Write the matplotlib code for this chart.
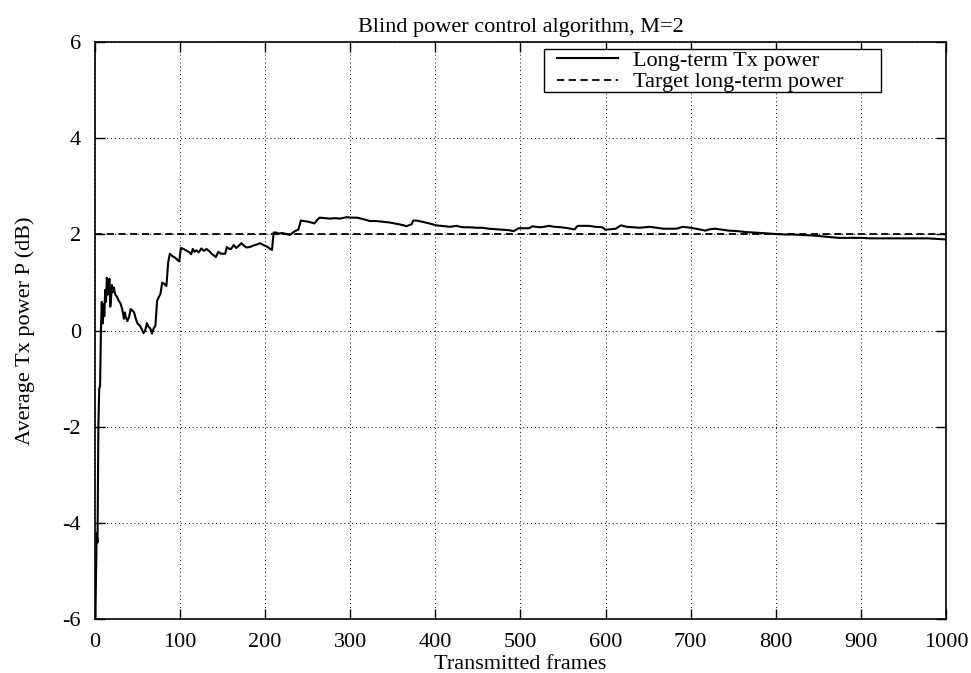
import matplotlib.pyplot as plt
from matplotlib.patches import Rectangle

# frames / long-term Tx power (dB)
frames = [0, 2, 3, 4, 5, 6, 7, 8, 9, 10,
          11, 12, 13, 14, 15, 16, 17, 18, 19, 20,
          21, 22, 24, 26, 28, 30, 32, 34, 35, 36,
          38, 40, 42, 44, 46, 48, 50, 53, 55, 57,
          59, 61, 63, 65, 67, 69, 71, 73, 75, 77,
          79, 81, 84, 86, 88, 91, 94, 97, 99, 101,
          104, 108, 111, 113, 115, 117, 119, 122, 125, 128,
          131, 134, 137, 140, 142, 145, 148, 151, 153, 155,
          158, 160, 163, 166, 168, 172, 175, 178, 182, 186,
          190, 194, 198, 202, 206, 208, 210, 213, 216, 220,
          225, 229, 232, 235, 239, 242, 249, 254, 258, 261,
          264, 270, 276, 282, 288, 296, 302, 308, 315, 323,
          330, 335, 340, 346, 352, 358, 363, 366, 370, 372,
          374, 378, 383, 388, 393, 397, 401, 407, 412, 417,
          421, 425, 429, 433, 440, 448, 455, 463, 471, 478,
          486, 492, 495, 498, 504, 510, 514, 518, 523, 528,
          533, 540, 548, 556, 562, 564, 566, 568, 574, 580,
          588, 596, 600, 606, 612, 618, 625, 632, 640, 646,
          652, 660, 668, 676, 683, 691, 700, 706, 712, 717,
          723, 729, 737, 745, 755, 765, 775, 784, 792, 800,
          810, 819, 831, 843, 855, 866, 874, 882, 892, 901,
          910, 920, 932, 944, 960, 979, 997, 1000]
power_db = [-6.6, -4.2, -4.4, -2.0, -1.2, -1.15, 0.0, 0.6, 0.15, 0.55,
            0.3, 0.85, 0.6, 1.1, 0.75, 0.95, 1.08, 0.5, 0.7, 0.95,
            0.8, 0.9, 0.75, 0.7, 0.62, 0.57, 0.45, 0.25, 0.38, 0.3,
            0.2, 0.28, 0.45, 0.42, 0.38, 0.25, 0.15, 0.1, 0.03, -0.05,
            0.0, 0.16, 0.08, 0.05, -0.06, 0.05, 0.1, 0.62, 0.7, 0.77,
            1.0, 0.98, 0.93, 1.42, 1.6, 1.55, 1.52, 1.47, 1.44, 1.72,
            1.7, 1.66, 1.63, 1.59, 1.7, 1.64, 1.67, 1.63, 1.71, 1.66,
            1.7, 1.66, 1.6, 1.56, 1.53, 1.64, 1.6, 1.6, 1.6, 1.74,
            1.7, 1.7, 1.78, 1.72, 1.75, 1.82, 1.77, 1.73, 1.74, 1.77,
            1.79, 1.82, 1.78, 1.75, 1.7, 1.68, 2.04, 2.04, 2.02, 2.03,
            2.01, 1.99, 2.03, 2.07, 2.1, 2.29, 2.27, 2.25, 2.23, 2.3,
            2.35, 2.34, 2.33, 2.34, 2.33, 2.36, 2.35, 2.35, 2.32, 2.28,
            2.28, 2.27, 2.26, 2.25, 2.23, 2.21, 2.19, 2.17, 2.2, 2.21,
            2.29, 2.29, 2.27, 2.25, 2.23, 2.21, 2.19, 2.18, 2.17, 2.16,
            2.17, 2.18, 2.16, 2.15, 2.15, 2.14, 2.14, 2.12, 2.11, 2.1,
            2.09, 2.07, 2.1, 2.13, 2.13, 2.13, 2.17, 2.16, 2.15, 2.16,
            2.18, 2.16, 2.15, 2.13, 2.11, 2.11, 2.16, 2.18, 2.18, 2.18,
            2.16, 2.15, 2.1, 2.11, 2.12, 2.19, 2.16, 2.15, 2.14, 2.15,
            2.16, 2.14, 2.12, 2.12, 2.12, 2.16, 2.14, 2.12, 2.1, 2.08,
            2.11, 2.12, 2.1, 2.08, 2.07, 2.05, 2.04, 2.03, 2.02, 2.01,
            2.0, 2.0, 1.99, 1.98, 1.96, 1.94, 1.93, 1.93, 1.93, 1.93,
            1.92, 1.92, 1.92, 1.92, 1.92, 1.92, 1.9, 1.9]
target_db = 2.0

x_ticks = [0, 100, 200, 300, 400, 500, 600, 700, 800, 900, 1000]
y_ticks = [-6, -4, -2, 0, 2, 4, 6]

plt.rcParams['font.family'] = ['Liberation Serif', 'DejaVu Serif']
plt.rcParams['font.size'] = 16
plt.rcParams['axes.unicode_minus'] = False

fig = plt.figure(figsize=(9.71, 6.73), dpi=100)
ax = fig.add_axes([0.0978, 0.0795, 0.8764, 0.8581])

ax.plot(frames, power_db, color='black', lw=1.5, label='Long-term Tx power')
ax.axhline(target_db, color='black', lw=1.3, dashes=(4, 2.5), label='Target long-term power')

ax.set_xlim(0, 1000)
ax.set_ylim(-6, 6)
ax.set_xticks(x_ticks)
ax.set_yticks(y_ticks)
ax.grid(True, color='black', lw=0.7, linestyle=(0, (1, 3)))
ax.tick_params(direction='in', length=7, width=1, top=True, right=True, pad=10)
for s in ax.spines.values():
    s.set_linewidth(1.2)

ax.set_title('Blind power control algorithm, M=2', fontsize=16, pad=7)
ax.set_xlabel('Transmitted frames', labelpad=2)
ax.set_ylabel('Average Tx power P (dB)', labelpad=20)

# legend box (wider than its contents, as in the reference)
ax.add_patch(Rectangle((0.5276, 0.9134), 0.396, 0.0745, transform=ax.transAxes,
                       facecolor='white', edgecolor='black', lw=1.0, zorder=4))
leg = ax.legend(loc='upper left', bbox_to_anchor=(0.543, 0.986), frameon=False,
                handlelength=2.75, handletextpad=0.68, borderpad=0.0,
                labelspacing=0.05, borderaxespad=0.0)
leg.set_zorder(5)

fig.savefig('out.png', dpi=100)
